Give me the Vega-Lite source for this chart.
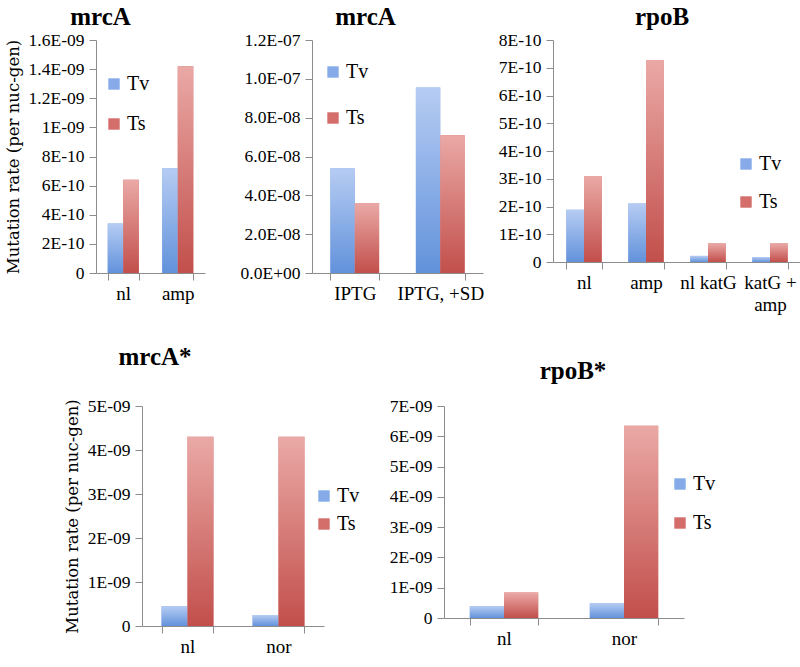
{
  "$schema": "https://vega.github.io/schema/vega-lite/v6.json",
  "background": "white",
  "padding": 5,
  "datasets": {
    "p1": [
      {"cond": "nl", "type": "Tv", "rate": 3.4e-10},
      {"cond": "nl", "type": "Ts", "rate": 6.4e-10},
      {"cond": "amp", "type": "Tv", "rate": 7.2e-10},
      {"cond": "amp", "type": "Ts", "rate": 1.42e-9}
    ],
    "p2": [
      {"cond": "IPTG", "type": "Tv", "rate": 5.4e-8},
      {"cond": "IPTG", "type": "Ts", "rate": 3.6e-8},
      {"cond": "IPTG, +SD", "type": "Tv", "rate": 9.55e-8},
      {"cond": "IPTG, +SD", "type": "Ts", "rate": 7.1e-8}
    ],
    "p3": [
      {"cond": "nl", "type": "Tv", "rate": 1.88e-10},
      {"cond": "nl", "type": "Ts", "rate": 3.1e-10},
      {"cond": "amp", "type": "Tv", "rate": 2.11e-10},
      {"cond": "amp", "type": "Ts", "rate": 7.28e-10},
      {"cond": "nl katG", "type": "Tv", "rate": 2.2e-11},
      {"cond": "nl katG", "type": "Ts", "rate": 6.7e-11},
      {"cond": "katG + amp", "type": "Tv", "rate": 1.8e-11},
      {"cond": "katG + amp", "type": "Ts", "rate": 6.7e-11}
    ],
    "p4": [
      {"cond": "nl", "type": "Tv", "rate": 4.5e-10},
      {"cond": "nl", "type": "Ts", "rate": 4.3e-9},
      {"cond": "nor", "type": "Tv", "rate": 2.5e-10},
      {"cond": "nor", "type": "Ts", "rate": 4.3e-9}
    ],
    "p5": [
      {"cond": "nl", "type": "Tv", "rate": 3.85e-10},
      {"cond": "nl", "type": "Ts", "rate": 8.4e-10},
      {"cond": "nor", "type": "Tv", "rate": 4.9e-10},
      {"cond": "nor", "type": "Ts", "rate": 6.35e-9}
    ]
  },
  "config": {
    "view": {"stroke": null},
    "font": "Liberation Serif",
    "axis": {"domainColor": "#8c8c8c", "tickColor": "#8c8c8c", "grid": false, "labelFont": "Liberation Serif", "labelColor": "#000", "titleColor": "#000", "labelFontSize": 17.5, "tickSize": 7, "labelPadding": 5, "titleFont": "DejaVu Serif", "titleFontSize": 16.5, "titleFontWeight": "normal"},
    "axisX": {"labelAngle": 0, "labelFontSize": 19, "title": null, "tickBand": "extent", "tickSize": 7, "labelPadding": 4},
    "title": {"font": "Liberation Serif", "fontWeight": "bold", "fontSize": 25, "color": "#000", "anchor": "middle", "frame": "group", "offset": 1},
    "legend": {"labelFont": "Liberation Serif", "labelFontSize": 20, "labelColor": "#000", "symbolType": "square", "symbolSize": 130, "symbolStrokeWidth": 0, "orient": "none", "labelOffset": 3},
    "bar": {"stroke": null},
    "range": {"category": ["#86abe8", "#d46e6a"]}
  },
  "spacing": 31,
  "resolve": {"scale": {"color": "independent", "xOffset": "independent"}, "legend": {"color": "independent"}},
  "vconcat": [
    {
      "spacing": 14,
      "resolve": {"scale": {"color": "independent", "xOffset": "independent"}, "legend": {"color": "independent"}},
      "hconcat": [
        {
          "spacing": 35,
          "resolve": {"scale": {"color": "independent", "xOffset": "independent"}, "legend": {"color": "independent"}},
          "hconcat": [
            {
              "title": {"text": "mrcA", "dx": -50},
              "width": 109, "height": 233,
              "data": {"name": "p1"},
              "encoding": {
                "x": {"field": "cond", "type": "nominal", "sort": ["nl", "amp"], "scale": {"paddingInner": 0.43, "paddingOuter": 0.215}},
                "xOffset": {"field": "type", "sort": ["Tv", "Ts"], "scale": {"paddingInner": 0, "paddingOuter": 0}},
                "y": {"field": "rate", "type": "quantitative", "scale": {"domain": [0, 1.6e-9], "nice": false},
                  "axis": {"title": "Mutation rate (per nuc-gen)", "titlePadding": 7, "values": [0, 2e-10, 4e-10, 6e-10, 8e-10, 1e-9, 1.2e-9, 1.4e-9, 1.6e-9],
                    "labelExpr": "datum.value == 0 ? '0' : format(datum.value / pow(10, floor(log(datum.value)/LN10 + 1e-6)), '~g') + 'E-' + (floor(log(datum.value)/LN10 + 1e-6) > -10 ? '0' : '') + (-floor(log(datum.value)/LN10 + 1e-6))"}}
              },
              "layer": [
                {"mark": {"type": "bar"}, "encoding": {"color": {"field": "type", "type": "nominal", "sort": ["Tv", "Ts"], "scale": {"domain": ["Tv", "Ts"]}, "legend": {"title": null, "legendX": 8, "legendY": 34, "rowPadding": 20}}}},
                {"mark": {"type": "bar"}, "encoding": {"fill": {"condition": {"test": "datum.type === 'Tv'", "value": {"gradient": "linear", "x1": 0, "y1": 0, "x2": 0, "y2": 1, "stops": [{"offset": 0, "color": "#b6ccf3"}, {"offset": 1, "color": "#6292db"}]}}, "value": {"gradient": "linear", "x1": 0, "y1": 0, "x2": 0, "y2": 1, "stops": [{"offset": 0, "color": "#eaa9a6"}, {"offset": 1, "color": "#c24f4b"}]}}}}
              ]
            },
            {
              "title": {"text": "mrcA", "dx": -32},
              "width": 171, "height": 233,
              "data": {"name": "p2"},
              "encoding": {
                "x": {"field": "cond", "type": "nominal", "sort": ["IPTG", "IPTG, +SD"], "scale": {"paddingInner": 0.43, "paddingOuter": 0.215}},
                "xOffset": {"field": "type", "sort": ["Tv", "Ts"], "scale": {"paddingInner": 0, "paddingOuter": 0}},
                "y": {"field": "rate", "type": "quantitative", "scale": {"domain": [0, 1.2e-7], "nice": false},
                  "axis": {"title": null, "values": [0, 2e-8, 4e-8, 6e-8, 8e-8, 1e-7, 1.2e-7],
                    "labelExpr": "datum.value == 0 ? '0.0E+00' : format(datum.value / pow(10, floor(log(datum.value)/LN10 + 1e-6)), '.1f') + 'E-' + (floor(log(datum.value)/LN10 + 1e-6) > -10 ? '0' : '') + (-floor(log(datum.value)/LN10 + 1e-6))"}}
              },
              "layer": [
                {"mark": {"type": "bar"}, "encoding": {"color": {"field": "type", "type": "nominal", "sort": ["Tv", "Ts"], "scale": {"domain": ["Tv", "Ts"]}, "legend": {"title": null, "legendX": 11, "legendY": 22, "rowPadding": 26}}}},
                {"mark": {"type": "bar"}, "encoding": {"fill": {"condition": {"test": "datum.type === 'Tv'", "value": {"gradient": "linear", "x1": 0, "y1": 0, "x2": 0, "y2": 1, "stops": [{"offset": 0, "color": "#b6ccf3"}, {"offset": 1, "color": "#6292db"}]}}, "value": {"gradient": "linear", "x1": 0, "y1": 0, "x2": 0, "y2": 1, "stops": [{"offset": 0, "color": "#eaa9a6"}, {"offset": 1, "color": "#c24f4b"}]}}}}
              ]
            }
          ]
        },
        {
          "title": {"text": "rpoB", "dx": -15},
          "width": 248, "height": 222,
          "data": {"name": "p3"},
          "encoding": {
            "x": {"field": "cond", "type": "nominal", "sort": ["nl", "amp", "nl katG", "katG + amp"], "scale": {"paddingInner": 0.43, "paddingOuter": 0.215},
              "axis": {"labelExpr": "datum.label == 'katG + amp' ? ['katG +', 'amp'] : datum.label", "labelLineHeight": 22}},
            "xOffset": {"field": "type", "sort": ["Tv", "Ts"], "scale": {"paddingInner": 0, "paddingOuter": 0}},
            "y": {"field": "rate", "type": "quantitative", "scale": {"domain": [0, 8e-10], "nice": false},
              "axis": {"title": null, "values": [0, 1e-10, 2e-10, 3e-10, 4e-10, 5e-10, 6e-10, 7e-10, 8e-10],
                "labelExpr": "datum.value == 0 ? '0' : format(datum.value / pow(10, floor(log(datum.value)/LN10 + 1e-6)), '~g') + 'E-' + (floor(log(datum.value)/LN10 + 1e-6) > -10 ? '0' : '') + (-floor(log(datum.value)/LN10 + 1e-6))"}}
          },
          "layer": [
            {"mark": {"type": "bar"}, "encoding": {"color": {"field": "type", "type": "nominal", "sort": ["Tv", "Ts"], "scale": {"domain": ["Tv", "Ts"]}, "legend": {"title": null, "legendX": 183, "legendY": 114, "rowPadding": 18}}}},
            {"mark": {"type": "bar"}, "encoding": {"fill": {"condition": {"test": "datum.type === 'Tv'", "value": {"gradient": "linear", "x1": 0, "y1": 0, "x2": 0, "y2": 1, "stops": [{"offset": 0, "color": "#b6ccf3"}, {"offset": 1, "color": "#6292db"}]}}, "value": {"gradient": "linear", "x1": 0, "y1": 0, "x2": 0, "y2": 1, "stops": [{"offset": 0, "color": "#eaa9a6"}, {"offset": 1, "color": "#c24f4b"}]}}}}
          ]
        }
      ]
    },
    {
      "spacing": 33,
      "bounds": "flush",
      "resolve": {"scale": {"color": "independent", "xOffset": "independent"}, "legend": {"color": "independent"}},
      "hconcat": [
        {
          "width": 13, "height": 10,
          "data": {"values": []},
          "mark": {"type": "point", "opacity": 0},
          "encoding": {}
        },
        {
          "spacing": 29,
          "bounds": "full",
          "resolve": {"scale": {"color": "independent", "xOffset": "independent"}, "legend": {"color": "independent"}},
          "hconcat": [
            {
              "title": {"text": "mrcA*", "dx": -78, "offset": 27},
              "width": 182, "height": 220,
              "data": {"name": "p4"},
              "encoding": {
                "x": {"field": "cond", "type": "nominal", "sort": ["nl", "nor"], "scale": {"paddingInner": 0.43, "paddingOuter": 0.215}},
                "xOffset": {"field": "type", "sort": ["Tv", "Ts"], "scale": {"paddingInner": 0, "paddingOuter": 0}},
                "y": {"field": "rate", "type": "quantitative", "scale": {"domain": [0, 5e-9], "nice": false},
                  "axis": {"title": "Mutation rate (per nuc-gen)", "titlePadding": 7, "values": [0, 1e-9, 2e-9, 3e-9, 4e-9, 5e-9],
                    "labelExpr": "datum.value == 0 ? '0' : format(datum.value / pow(10, floor(log(datum.value)/LN10 + 1e-6)), '~g') + 'E-' + (floor(log(datum.value)/LN10 + 1e-6) > -10 ? '0' : '') + (-floor(log(datum.value)/LN10 + 1e-6))"}}
              },
              "layer": [
                {"mark": {"type": "bar"}, "encoding": {"color": {"field": "type", "type": "nominal", "sort": ["Tv", "Ts"], "scale": {"domain": ["Tv", "Ts"]}, "legend": {"title": null, "legendX": 172, "legendY": 80, "rowPadding": 8}}}},
                {"mark": {"type": "bar"}, "encoding": {"fill": {"condition": {"test": "datum.type === 'Tv'", "value": {"gradient": "linear", "x1": 0, "y1": 0, "x2": 0, "y2": 1, "stops": [{"offset": 0, "color": "#b6ccf3"}, {"offset": 1, "color": "#6292db"}]}}, "value": {"gradient": "linear", "x1": 0, "y1": 0, "x2": 0, "y2": 1, "stops": [{"offset": 0, "color": "#eaa9a6"}, {"offset": 1, "color": "#c24f4b"}]}}}}
              ]
            },
            {
              "title": {"text": "rpoB*", "dx": 9, "offset": 13},
              "width": 240, "height": 212,
              "data": {"name": "p5"},
              "encoding": {
                "x": {"field": "cond", "type": "nominal", "sort": ["nl", "nor"], "scale": {"paddingInner": 0.43, "paddingOuter": 0.215}},
                "xOffset": {"field": "type", "sort": ["Tv", "Ts"], "scale": {"paddingInner": 0, "paddingOuter": 0}},
                "y": {"field": "rate", "type": "quantitative", "scale": {"domain": [0, 7e-9], "nice": false},
                  "axis": {"title": null, "values": [0, 1e-9, 2e-9, 3e-9, 4e-9, 5e-9, 6e-9, 7e-9],
                    "labelExpr": "datum.value == 0 ? '0' : format(datum.value / pow(10, floor(log(datum.value)/LN10 + 1e-6)), '~g') + 'E-' + (floor(log(datum.value)/LN10 + 1e-6) > -10 ? '0' : '') + (-floor(log(datum.value)/LN10 + 1e-6))"}}
              },
              "layer": [
                {"mark": {"type": "bar"}, "encoding": {"color": {"field": "type", "type": "nominal", "sort": ["Tv", "Ts"], "scale": {"domain": ["Tv", "Ts"]}, "legend": {"title": null, "legendX": 226, "legendY": 68, "rowPadding": 19}}}},
                {"mark": {"type": "bar"}, "encoding": {"fill": {"condition": {"test": "datum.type === 'Tv'", "value": {"gradient": "linear", "x1": 0, "y1": 0, "x2": 0, "y2": 1, "stops": [{"offset": 0, "color": "#b6ccf3"}, {"offset": 1, "color": "#6292db"}]}}, "value": {"gradient": "linear", "x1": 0, "y1": 0, "x2": 0, "y2": 1, "stops": [{"offset": 0, "color": "#eaa9a6"}, {"offset": 1, "color": "#c24f4b"}]}}}}
              ]
            }
          ]
        }
      ]
    }
  ]
}
